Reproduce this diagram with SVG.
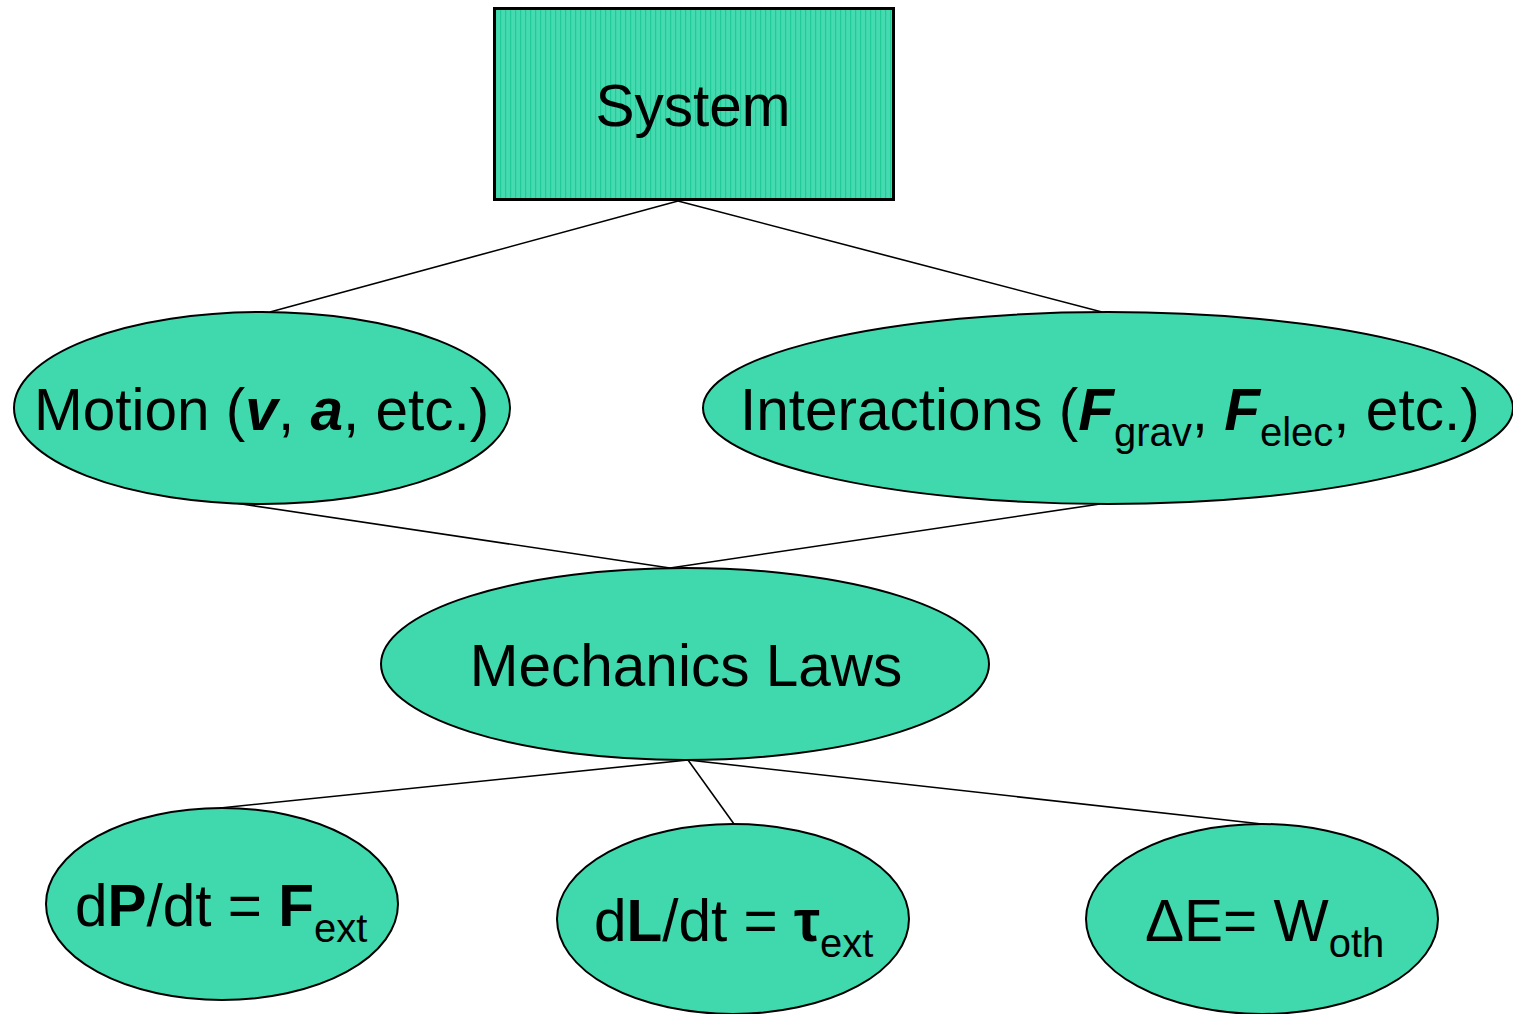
<svg xmlns="http://www.w3.org/2000/svg" width="1513" height="1014" viewBox="0 0 1513 1014">
<style>
  .node { fill: #3fd9ad; stroke: #000; stroke-width: 2; }
  .box { fill: url(#stripes); stroke: #000; stroke-width: 3; }
  .t { font-family: "Liberation Sans", Arial, sans-serif; font-size: 58.5px; fill: #000; }
  .sub { font-size: 40px; }
  .b { font-weight: bold; }
  .bi { font-weight: bold; font-style: italic; }
  .conn line { stroke: #000; stroke-width: 1.6; }
</style>
<defs>
  <pattern id="stripes" width="5" height="5" patternUnits="userSpaceOnUse">
    <rect width="5" height="5" fill="#45dab0"/>
    <rect width="1.2" height="5" fill="#20cb98"/>
  </pattern>
</defs>
<rect width="1513" height="1014" fill="#fff"/>
<g id="connectors" class="conn">
  <line x1="678" y1="201" x2="270" y2="312"/>
  <line x1="678" y1="201" x2="1102" y2="312"/>
  <line x1="235" y1="503" x2="670" y2="568"/>
  <line x1="1100" y1="504" x2="670" y2="568"/>
  <line x1="688" y1="760" x2="220" y2="808"/>
  <line x1="688" y1="760" x2="734" y2="824"/>
  <line x1="688" y1="760" x2="1262" y2="824"/>
</g>
<g id="system">
  <rect class="box" x="494.5" y="8.5" width="399" height="191"/>
  <text class="t" x="693" y="126" text-anchor="middle">System</text>
</g>
<g id="motion">
  <ellipse class="node" cx="262" cy="408" rx="248" ry="96"/>
  <text class="t" x="34" y="430">Motion (<tspan class="bi">v</tspan>, <tspan class="bi">a</tspan>, etc.)</text>
</g>
<g id="interactions">
  <ellipse class="node" cx="1108" cy="408" rx="405" ry="96"/>
  <text class="t" x="740" y="430">Interactions (<tspan class="bi">F</tspan><tspan class="sub" dy="16">grav</tspan><tspan dy="-16">, </tspan><tspan class="bi">F</tspan><tspan class="sub" dy="16">elec</tspan><tspan dy="-16">, etc.)</tspan></text>
</g>
<g id="mechanics">
  <ellipse class="node" cx="685" cy="664" rx="304" ry="96"/>
  <text class="t" x="686" y="686" text-anchor="middle">Mechanics Laws</text>
</g>
<g id="momentum">
  <ellipse class="node" cx="222" cy="904" rx="176" ry="96"/>
  <text class="t" x="75" y="926">d<tspan class="b">P</tspan>/dt = <tspan class="b">F</tspan><tspan class="sub" dy="16">ext</tspan></text>
</g>
<g id="angular">
  <ellipse class="node" cx="733" cy="919" rx="176" ry="95"/>
  <text class="t" x="594" y="941">d<tspan class="b">L</tspan>/dt = <tspan class="b">τ</tspan><tspan class="sub" dy="16">ext</tspan></text>
</g>
<g id="energy">
  <ellipse class="node" cx="1262" cy="919" rx="176" ry="95"/>
  <text class="t" x="1145" y="941">ΔE= W<tspan class="sub" dy="16">oth</tspan></text>
</g>
</svg>
